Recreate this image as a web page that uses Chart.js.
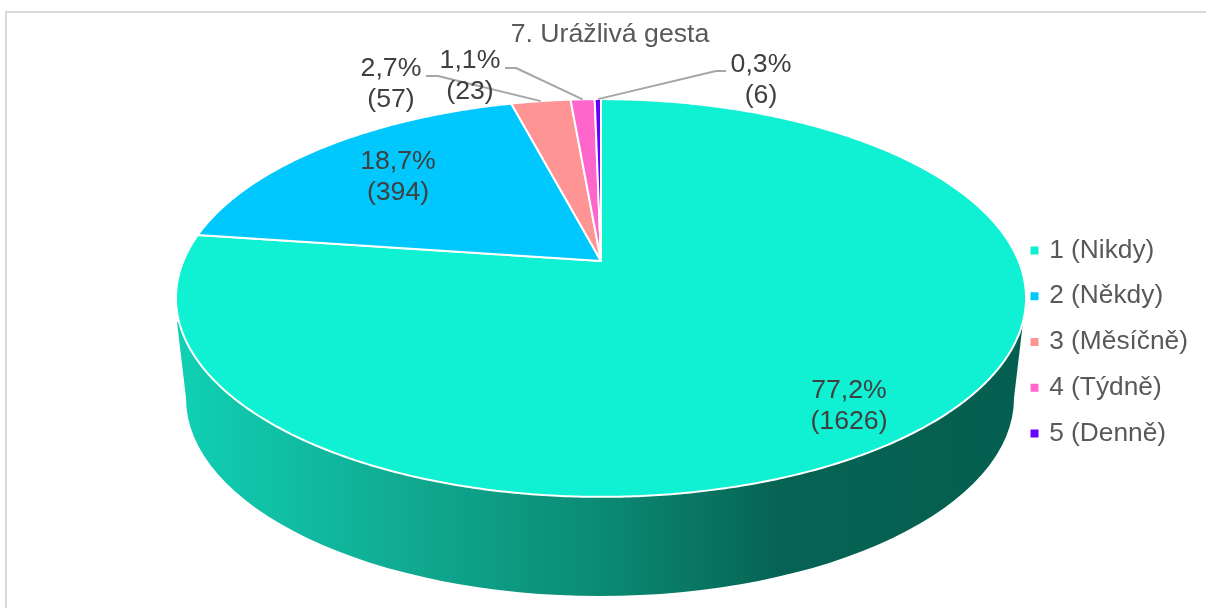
<!DOCTYPE html>
<html><head><meta charset="utf-8">
<style>
html,body{margin:0;padding:0;background:#fff;overflow:hidden}
#wrap{position:relative;width:1206px;height:608px}
canvas{display:block}
</style>
<script src="https://cdn.jsdelivr.net/npm/chart.js@4/dist/chart.umd.min.js"></script>
</head><body>
<div id="wrap"><canvas id="c" width="1206" height="608"></canvas></div>
<script>
const chartTitle = '7. Urážlivá gesta';
const categories = ['1 (Nikdy)', '2 (Někdy)', '3 (Měsíčně)', '4 (Týdně)', '5 (Denně)'];
const counts = [1626, 394, 57, 23, 6];
const percents = [77.2, 18.7, 2.7, 1.1, 0.3];
const colors = ['#10F0D2', '#00C8FF', '#FF9494', '#FF66CC', '#6600FF'];

const FONT = '"Liberation Sans", Arial, sans-serif';
// Perspective projection of the unit disc on to the page
const apex = {x: 601, y: 261}, pers = -0.186, bx = 417.6, by = 192;
function project(a) {
  const X = Math.cos(a), Y = Math.sin(a), w = 1 + pers * Y;
  return {x: apex.x + bx * X / w, y: apex.y + by * Y / w};
}
const labelPos = [
  {x: 849, y: 391}, {x: 398, y: 162},
  {x: 391, y: 69, line: [[426, 76], [438, 76]]},
  {x: 470, y: 61, line: [[505, 68], [516, 68]]},
  {x: 761, y: 65, line: [[726, 71], [716, 71]]}
];

const pie3d = {
  id: 'pie3d',
  beforeDatasetsDraw(chart) {
    const ctx = chart.ctx, arcs = chart.getDatasetMeta(0).data;
    // frame
    ctx.save();
    ctx.fillStyle = '#d9d9d9';
    ctx.fillRect(5, 11, 1201, 2);
    ctx.fillRect(5, 11, 2, 597);
    // side wall
    const g = ctx.createLinearGradient(186, 0, 1014, 0);
    g.addColorStop(0, '#10CFB2');
    g.addColorStop(0.26, '#10AB92');
    g.addColorStop(0.5, '#0B8B74');
    g.addColorStop(0.72, '#066353');
    g.addColorStop(1, '#055F50');
    ctx.beginPath();
    ctx.moveTo(177, 322);
    ctx.lineTo(186, 398);
    ctx.ellipse(600, 398, 414, 198, 0, Math.PI, 0, true);
    ctx.lineTo(1023, 322);
    ctx.closePath();
    ctx.fillStyle = g;
    ctx.fill();
    // top faces
    arcs.forEach((arc, i) => {
      const p = arc.getProps(['startAngle', 'endAngle'], true);
      ctx.beginPath();
      ctx.moveTo(apex.x, apex.y);
      const n = Math.max(4, Math.ceil((p.endAngle - p.startAngle) * 120));
      for (let k = 0; k <= n; k++) {
        const q = project(p.startAngle + (p.endAngle - p.startAngle) * k / n);
        ctx.lineTo(q.x, q.y);
      }
      ctx.closePath();
      ctx.fillStyle = colors[i];
      ctx.fill();
      ctx.strokeStyle = '#fff';
      ctx.lineWidth = 2;
      ctx.lineJoin = 'round';
      ctx.stroke();
    });
    // leader lines and labels
    ctx.strokeStyle = '#A6A6A6';
    ctx.lineWidth = 2;
    arcs.forEach((arc, i) => {
      const pos = labelPos[i];
      if (!pos.line) return;
      const p = arc.getProps(['startAngle', 'endAngle'], true);
      const end = project((p.startAngle + p.endAngle) / 2);
      ctx.beginPath();
      ctx.moveTo(pos.line[0][0], pos.line[0][1]);
      ctx.lineTo(pos.line[1][0], pos.line[1][1]);
      ctx.lineTo(end.x, end.y);
      ctx.stroke();
    });
    ctx.font = '26.67px ' + FONT;
    ctx.fillStyle = '#404040';
    ctx.textAlign = 'center';
    ctx.textBaseline = 'middle';
    counts.forEach((v, i) => {
      const pos = labelPos[i];
      ctx.fillText(percents[i].toFixed(1).replace('.', ',') + '%', pos.x, pos.y);
      ctx.fillText('(' + v + ')', pos.x, pos.y + 31);
    });
    ctx.restore();
    return false;
  }
};

new Chart(document.getElementById('c'), {
  type: 'pie',
  data: {
    labels: categories,
    datasets: [{data: counts, backgroundColor: colors, borderWidth: 0}]
  },
  plugins: [pie3d],
  options: {
    responsive: false,
    animation: false,
    layout: {padding: {left: 22, right: 8, top: 19, bottom: -57}},
    plugins: {
      title: {
        display: true, text: chartTitle, color: '#595959',
        font: {family: FONT, size: 26.67, weight: 'normal'},
        padding: {top: 0, bottom: 0}
      },
      legend: {
        position: 'right',
        labels: {
          color: '#595959', usePointStyle: true, pointStyle: 'rect',
          boxWidth: 3, boxHeight: 8, padding: 19.5,
          font: {family: FONT, size: 26.3}
        }
      },
      tooltip: {enabled: false}
    }
  }
});
</script>
</body></html>
